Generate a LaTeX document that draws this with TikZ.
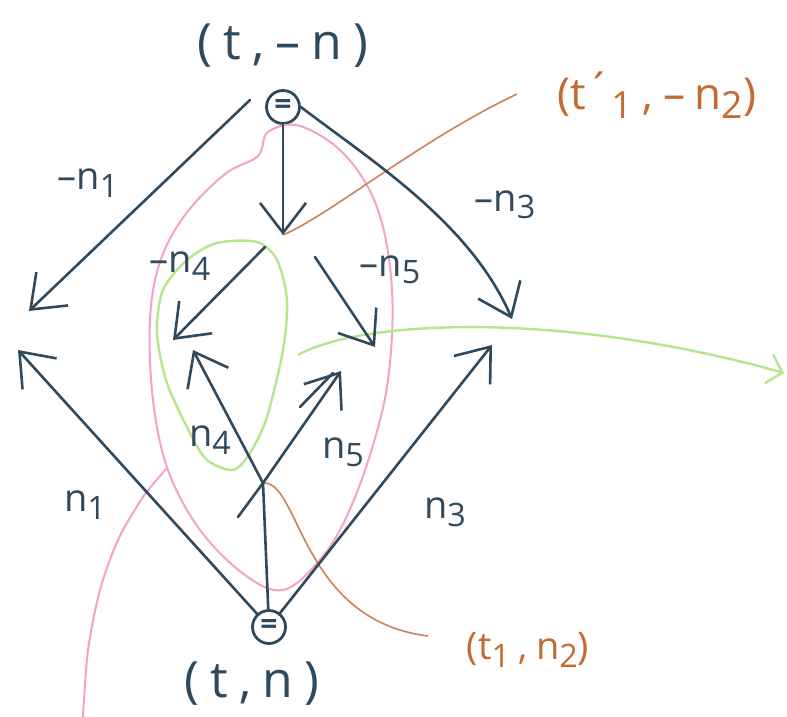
\documentclass[tikz,border=0pt]{standalone}
\usepackage{fontspec}
\usepackage{graphicx}
\setmainfont{Open Sans}
\usetikzlibrary{arrows.meta}
\definecolor{ink}{HTML}{2F4A5E}
\definecolor{pinkc}{HTML}{F2A4C6}
\definecolor{greenc}{HTML}{B6E68C}
\definecolor{orline}{HTML}{C98358}
\definecolor{ortext}{HTML}{C46A32}
\newcommand\lowsub[1]{\raisebox{-0.2em}{\scalebox{0.85}{#1}}}
\newcommand\gap{\hspace{0.22em}}
\begin{document}
\begin{tikzpicture}[x=1pt,y=-1pt,
  inkline/.style={draw=ink, line width=2.6pt, line cap=round, line join=round},
  barb/.style={-{Straight Barb[length=30pt,width=46pt]}},
  vnode/.style={circle, draw=ink, line width=2.8pt, minimum size=33pt, inner sep=0pt, text=ink, font=\fontsize{30}{30}\selectfont\bfseries},
  elab/.style={text=ink, inner sep=0pt, font=\fontsize{38}{38}\selectfont},
  plab/.style={text=ink, inner sep=0pt, font=\fontsize{50}{50}\selectfont},
  olab/.style={text=ortext, inner sep=0pt},
  pinkline/.style={draw=pinkc, line width=2pt},
  greenline/.style={draw=greenc, line width=2.4pt},
  orangeline/.style={draw=orline, line width=1.6pt},
]
\fill[white] (0,0) rectangle (787,717);
\useasboundingbox (0,0) rectangle (787,717);

% nodes and points
\node[vnode] (top) at (283,107) {=};
\node[vnode] (bot) at (269,627) {=};
\coordinate (M) at (283,235);
\coordinate (N) at (263,483);
\coordinate (s1) at (250,100);
\coordinate (L1) at (29,311);
\coordinate (R1) at (512,319);
\coordinate (m4s) at (265,247);
\coordinate (A4) at (173,340);
\coordinate (m5s) at (315,257);
\coordinate (A5) at (375,347);
\coordinate (L2) at (18,350);
\coordinate (R2) at (492,345);
\coordinate (B4) at (193,350);
\coordinate (B5) at (341,371);
\coordinate (n5t) at (238,517);
\coordinate (d1) at (300,407);
\coordinate (d2) at (333,373);
\coordinate (G) at (784,373);
\coordinate (Gs) at (298,355);
\coordinate (OT) at (517,94);
\coordinate (OB) at (428,636);

% pink loop and tail
\draw[pinkline] plot[smooth cycle, tension=0.6] coordinates {(268,132) (300,126) (345,155) (378,210) (392,290) (388,380) (370,455) (345,520) (318,562) (283,590) (245,575) (200,530) (168,470) (153,400) (150,320) (160,262) (185,215) (225,174) (258,156)};
\draw[pinkline] plot[smooth] coordinates {(167,468) (143,497) (118,540) (100,590) (88,650) (83,717)};

% green loop and arrow
\draw[greenline] plot[smooth cycle] coordinates {(217,243) (257,242) (277,260) (287,300) (283,350) (267,417) (250,453) (233,470) (207,460) (190,433) (167,383) (157,333) (163,290) (187,260)};
\draw[greenline, -{Straight Barb[length=14pt,width=30pt]}] (Gs) .. controls (360,320) and (560,310) .. (G);

% orange leaders
\draw[orangeline] (M) .. controls (330,215) and (420,140) .. (OT);
\draw[orangeline] (N) .. controls (300,480) and (300,620) .. (OB);

% ink connectors
\draw[inkline,barb] (s1) -- (L1);
\draw[inkline,barb] (top) -- (M);
\draw[inkline,barb] (top.east) .. controls (370,160) and (470,222) .. (R1);
\draw[inkline,barb] (m4s) -- (A4);
\draw[inkline,barb] (m5s) -- (A5);
\draw[inkline,barb] (bot) -- (L2);
\draw[inkline] (bot) -- (N);
\draw[inkline,barb] (bot) -- (R2);
\draw[inkline,barb] (N) -- (B4);
\draw[inkline,barb] (N) -- (B5);
\draw[inkline] (N) -- (n5t);
\draw[inkline] (d1) -- (d2);

% labels
\node[plab] (ltop) at (283,46) {(\gap t\gap,\gap–\gap n\gap)};
\node[plab] (lbot) at (252,684) {(\gap t\gap,\gap n\gap)};
\node[elab] (ln1m) at (88,183) {–n\lowsub{1}};
\node[elab] (ln3m) at (505,205) {–n\lowsub{3}};
\node[elab] (ln4m) at (180,266) {–n\lowsub{4}};
\node[elab] (ln5m) at (390,270) {–n\lowsub{5}};
\node[elab] (ln4) at (210,440) {n\lowsub{4}};
\node[elab] (ln5) at (343,452) {n\lowsub{5}};
\node[elab] (ln1) at (85,505) {n\lowsub{1}};
\node[elab] (ln3) at (445,512) {n\lowsub{3}};
\node[olab, font=\fontsize{44}{44}\selectfont] (lM) at (657,95) {(t\raisebox{0.1em}{´}\lowsub{1}\gap,\gap–\gap n\lowsub{2})};
\node[olab, font=\fontsize{38}{38}\selectfont] (lN) at (528,650) {(t\lowsub{1}\gap,\gap n\lowsub{2})};
\end{tikzpicture}
\end{document}
